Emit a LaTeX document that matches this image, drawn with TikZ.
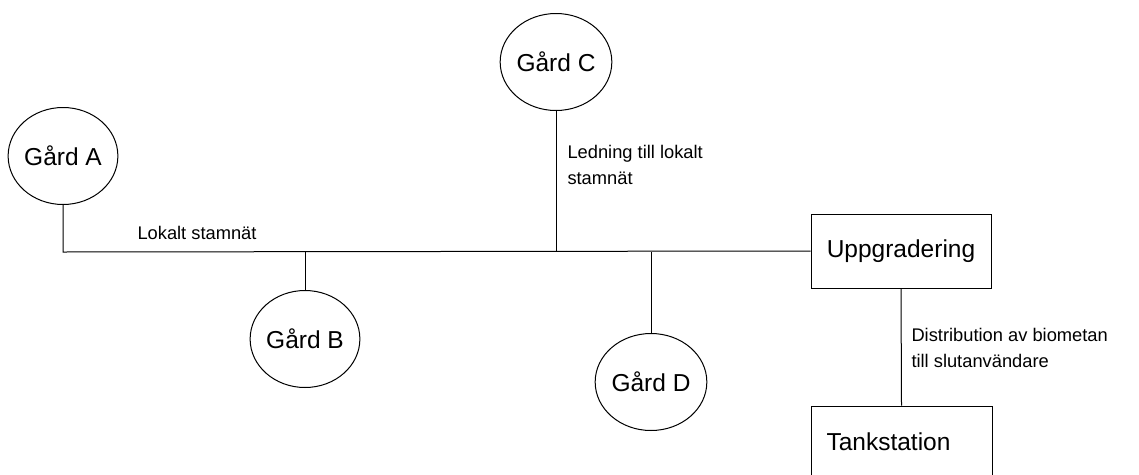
\documentclass[tikz,border=0pt]{standalone}
\usepackage{fontspec}
\setmainfont{Liberation Sans}
\usetikzlibrary{shapes.geometric}
\begin{document}
\begin{tikzpicture}[x=1pt,y=-1pt,line width=1pt,
  gard/.style={draw,ellipse,minimum width=103pt,minimum height=97pt,inner sep=0pt,font=\fontsize{24.5}{28}\selectfont},
  unit/.style={draw,rectangle,inner sep=0pt,font=\fontsize{24.5}{28}\selectfont},
  lbl/.style={anchor=base west,inner sep=0pt,align=left,font=\fontsize{18.3}{25.5}\selectfont}]
\useasboundingbox (0,0) rectangle (1139,474);
\node[gard] (A) at (63,156) {Gård A};
\node[gard] (B) at (305,339) {Gård B};
\node[gard] (C) at (556,62) {Gård C};
\node[gard] (D) at (651,382) {Gård D};
\node[unit,minimum width=180pt,minimum height=74pt] (U) at (901,251) {Uppgradering};
\node[unit,minimum width=181pt,minimum height=140pt,text depth=0pt] (T) at (901.5,476) {};
\node[anchor=base west,inner sep=0pt,font=\fontsize{24.5}{28}\selectfont] (Tt) at (826,450) {Tankstation};
\coordinate (J) at (63,252);
\draw (A.south) -- (J) -- (U.west);
\draw (B.north) -- (B.north |- J);
\draw (C.south) -- (C.south |- J);
\draw (D.north) -- (D.north |- J);
\draw (U.south) -- (T.north);
\node[lbl] (L1) at (137,239) {Lokalt stamnät};
\node[lbl] (L2) at (567,184) {Ledning till lokalt\\stamnät};
\node[lbl] (L3) at (911,367) {Distribution av biometan\\till slutanvändare};
\end{tikzpicture}
\end{document}
